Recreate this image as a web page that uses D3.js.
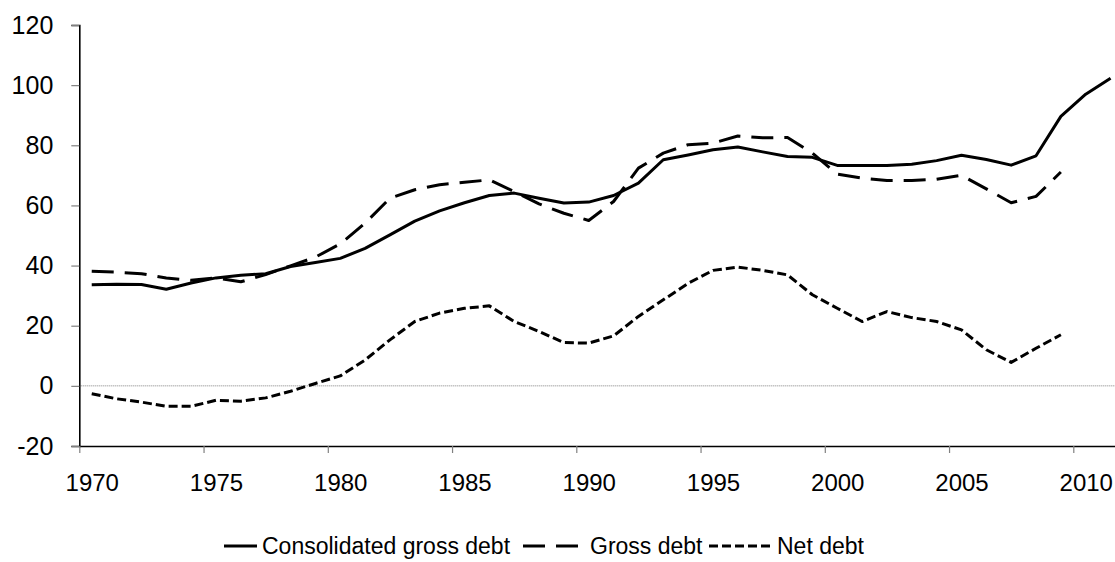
<!DOCTYPE html>
<html>
<head>
<meta charset="utf-8">
<script src="https://cdn.jsdelivr.net/npm/d3@7"></script>
<style>
  html, body { margin: 0; padding: 0; background: #fff; }
  svg { display: block; font-family: "Liberation Sans", Arial, sans-serif; }
</style>
</head>
<body>
<svg id="chart" width="1115" height="562"></svg>
<script>
const years = d3.range(1970, 2012);
const consolidated = [33.6, 33.8, 33.7, 32.1, 34.2, 35.9, 36.8, 37.3, 39.7, 41.0,
  42.4, 45.7, 50.2, 54.8, 58.2, 60.9, 63.3, 64.1, 62.4, 60.8,
  61.1, 63.3, 67.4, 75.2, 76.8, 78.5, 79.4, 77.8, 76.3, 76.0,
  73.3, 73.3, 73.3, 73.7, 74.9, 76.7, 75.3, 73.4, 76.5, 89.6,
  97.0, 102.3];
const gross = [38.1, 37.8, 37.3, 35.9, 35.1, 35.9, 34.6, 37.0, 39.9, 42.8,
  47.2, 54.1, 62.4, 65.2, 66.9, 67.7, 68.5, 64.6, 60.5, 57.4,
  55.0, 61.3, 72.4, 77.4, 80.2, 80.7, 83.1, 82.5, 82.6, 77.4,
  70.4, 69.1, 68.3, 68.3, 68.7, 70.0, 65.5, 60.9, 63.0, 71.1];
const net = [-2.6, -4.3, -5.4, -6.8, -6.8, -4.8, -5.1, -4.0, -1.8, 0.8,
  3.3, 8.6, 15.3, 21.4, 24.2, 25.8, 26.6, 21.4, 18.1, 14.4,
  14.2, 16.6, 23.1, 28.6, 34.1, 38.4, 39.5, 38.4, 36.9, 30.3,
  25.8, 21.4, 24.7, 22.7, 21.4, 18.6, 12.0, 7.8, 12.5, 17.0];
const xTickYears = [1970, 1975, 1980, 1985, 1990, 1995, 2000, 2005, 2010];
const yTicks = [-20, 0, 20, 40, 60, 80, 100, 120];
const seriesNames = ["Consolidated gross debt", "Gross debt", "Net debt"];

const svg = d3.select("#chart");
const left = 79.3, bandW = 24.85;
const x = d3.scaleLinear().domain([1970, 2012]).range([left, left + 42 * bandW]);
const y = d3.scaleLinear().domain([-20, 120]).range([446, 25]);

// zero line
svg.append("line")
  .attr("x1", left).attr("x2", 1115)
  .attr("y1", y(0)).attr("y2", y(0))
  .attr("stroke", "#7f7f7f").attr("stroke-width", 1)
  .attr("stroke-dasharray", "1,1");

// y axis
const yAxis = svg.append("g").attr("transform", `translate(${left},0)`)
  .call(d3.axisLeft(y).tickValues(yTicks).tickSize(8).tickPadding(18).tickFormat(d => String(d)));
yAxis.select(".domain").attr("stroke", "#000").attr("stroke-width", 1.6);
yAxis.selectAll(".tick line").attr("stroke", "#808080").attr("stroke-width", 1.2);
yAxis.selectAll(".tick text").attr("font-size", 25).attr("fill", "#000")
  .attr("font-family", "Liberation Sans, Arial, sans-serif");

// x axis
const xAxis = svg.append("g").attr("transform", `translate(0,${y(-20)})`)
  .call(d3.axisBottom(x).tickValues(xTickYears).tickSize(7).tickSizeOuter(0).tickPadding(21).tickFormat(d => String(d)));
xAxis.select(".domain").attr("stroke", "#000").attr("stroke-width", 1.6);
xAxis.selectAll(".tick line").attr("stroke", "#808080").attr("stroke-width", 1.2);
xAxis.selectAll(".tick text").attr("font-size", 24).attr("fill", "#000")
  .attr("x", bandW / 2)
  .attr("font-family", "Liberation Sans, Arial, sans-serif");

// lines
const styles = [
  { data: consolidated, dash: null },
  { data: gross, dash: "22,11" },
  { data: net, dash: "9,4" }
];
const line = d3.line()
  .defined(d => d.v != null)
  .x(d => x(d.year + 0.5))
  .y(d => y(d.v));
styles.forEach(s => {
  const pts = s.data.map((v, i) => ({ year: years[i], v }));
  svg.append("path")
    .datum(pts)
    .attr("d", line)
    .attr("fill", "none")
    .attr("stroke", "#000")
    .attr("stroke-width", 3)
    .attr("stroke-linejoin", "round")
    .attr("stroke-dasharray", s.dash);
});

// legend
const legendY = 546;
const legendItems = [
  { x1: 224, x2: 257, tx: 262, dash: null },
  { x1: 523, x2: 584, tx: 590, dash: "22,11" },
  { x1: 709, x2: 772, tx: 777, dash: "9,4" }
];
const lg = svg.append("g");
legendItems.forEach((it, i) => {
  lg.append("line")
    .attr("x1", it.x1).attr("x2", it.x2)
    .attr("y1", legendY).attr("y2", legendY)
    .attr("stroke", "#000").attr("stroke-width", 3)
    .attr("stroke-dasharray", it.dash);
  lg.append("text")
    .attr("x", it.tx).attr("y", legendY)
    .attr("dy", "0.36em")
    .attr("font-size", 23)
    .attr("fill", "#000")
    .text(seriesNames[i]);
});
</script>
</body>
</html>
